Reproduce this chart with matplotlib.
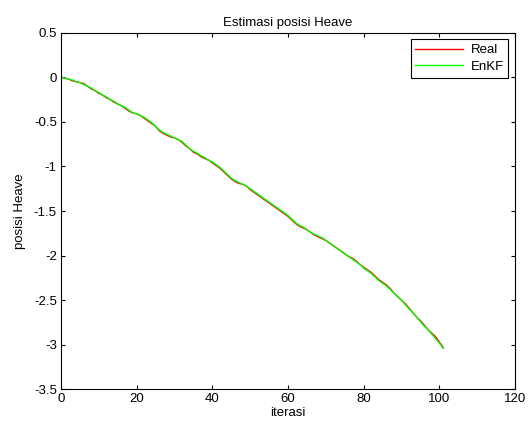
import matplotlib
matplotlib.use("Agg")
import matplotlib.pyplot as plt

plt.rcParams['font.family'] = ['Liberation Sans', 'DejaVu Sans']

iterasi = list(range(102))
real = [0.00, -0.01, -0.02, -0.04, -0.05, -0.06, -0.07, -0.10, -0.13, -0.15,
        -0.18, -0.20, -0.23, -0.25, -0.28, -0.30, -0.32, -0.35, -0.38, -0.40,
        -0.41, -0.43, -0.46, -0.49, -0.52, -0.55, -0.60, -0.63, -0.65, -0.67,
        -0.68, -0.70, -0.73, -0.77, -0.80, -0.84, -0.86, -0.89, -0.91, -0.93,
        -0.96, -0.99, -1.02, -1.06, -1.10, -1.14, -1.17, -1.19, -1.20, -1.22,
        -1.26, -1.29, -1.32, -1.35, -1.38, -1.41, -1.44, -1.47, -1.50, -1.53,
        -1.56, -1.60, -1.64, -1.67, -1.69, -1.71, -1.74, -1.77, -1.79, -1.81,
        -1.83, -1.86, -1.89, -1.92, -1.95, -1.98, -2.01, -2.03, -2.06, -2.10,
        -2.13, -2.16, -2.19, -2.23, -2.27, -2.30, -2.33, -2.37, -2.42, -2.46,
        -2.50, -2.54, -2.59, -2.64, -2.69, -2.73, -2.78, -2.83, -2.87, -2.91,
        -2.97, -3.03]
enkf = [0.00, -0.01, -0.02, -0.03, -0.05, -0.06, -0.08, -0.10, -0.12, -0.15,
        -0.17, -0.20, -0.22, -0.25, -0.27, -0.30, -0.32, -0.34, -0.37, -0.40,
        -0.41, -0.43, -0.45, -0.48, -0.51, -0.55, -0.59, -0.62, -0.64, -0.66,
        -0.68, -0.70, -0.72, -0.76, -0.80, -0.83, -0.85, -0.88, -0.90, -0.93,
        -0.95, -0.98, -1.01, -1.05, -1.09, -1.13, -1.16, -1.18, -1.20, -1.22,
        -1.25, -1.28, -1.31, -1.34, -1.37, -1.40, -1.43, -1.46, -1.49, -1.52,
        -1.55, -1.59, -1.63, -1.66, -1.68, -1.71, -1.74, -1.76, -1.78, -1.80,
        -1.83, -1.86, -1.89, -1.92, -1.95, -1.98, -2.01, -2.04, -2.07, -2.10,
        -2.14, -2.17, -2.20, -2.24, -2.28, -2.31, -2.34, -2.38, -2.42, -2.46,
        -2.50, -2.55, -2.60, -2.64, -2.69, -2.74, -2.79, -2.83, -2.88, -2.93,
        -2.98, -3.04]

xticks = [0, 20, 40, 60, 80, 100, 120]
yticks = [0.5, 0, -0.5, -1, -1.5, -2, -2.5, -3, -3.5]

fs = 9.5
fig = plt.figure(figsize=(5.31, 4.25), dpi=100)
ax = fig.add_axes([61/531, 1 - 389.3/425, (515-61)/531, (389.3-32.7)/425])
ax.plot(iterasi, real, color='#ff0000', lw=1.0, label='Real')
ax.plot(iterasi, enkf, color='#00ff00', lw=1.0, label='EnKF')
ax.set_xlim(0, 120)
ax.set_ylim(-3.5, 0.5)
ax.set_xticks(xticks)
ax.set_xticklabels([str(t) for t in xticks])
ax.set_yticks(yticks)
ax.set_yticklabels(['0.5', '0', '-0.5', '-1', '-1.5', '-2', '-2.5', '-3', '-3.5'])
ax.tick_params(direction='in', top=True, right=True, labelsize=fs, length=3, width=0.8, pad=3)
for s in ax.spines.values():
    s.set_linewidth(0.8)
ax.set_title('Estimasi posisi Heave', fontsize=fs, pad=5)
ax.set_xlabel('iterasi', fontsize=fs, labelpad=1)
ax.set_ylabel('posisi Heave', fontsize=fs, labelpad=6)
leg = ax.legend(loc='upper right', fontsize=fs, fancybox=False, framealpha=1,
                edgecolor='black', borderaxespad=0.5, handlelength=3.6,
                borderpad=0.35, labelspacing=0.35, handletextpad=0.6)
leg.get_frame().set_linewidth(0.8)
fig.savefig('out.png', dpi=100)
